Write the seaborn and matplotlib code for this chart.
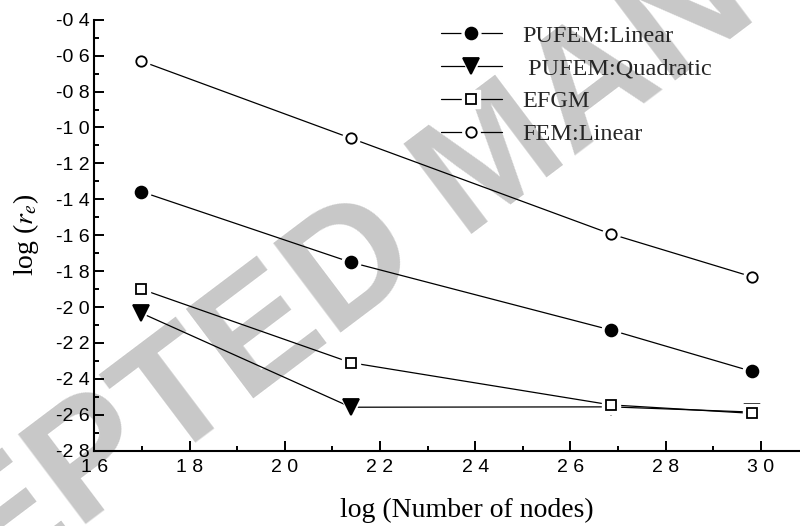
import matplotlib
matplotlib.use("Agg")
import matplotlib.pyplot as plt
from matplotlib.lines import Line2D
from matplotlib.legend_handler import HandlerTuple
from matplotlib.ticker import MultipleLocator, FixedLocator, FixedFormatter
import numpy as np
import pandas as pd
import seaborn as sns

# log10 of the number of nodes for each refinement level
log_nodes = [1.698, 2.139, 2.685, 2.981]

# log10 of the relative error for each method
pufem_linear = [-1.357, -1.751, -2.128, -2.358]
pufem_quadratic = [-2.033, -2.558, -2.556, -2.585]
efgm = [-1.900, -2.310, -2.545, -2.592]
fem_linear = [-0.630, -1.060, -1.593, -1.831]

series_names = ["PUFEM:Linear", " PUFEM:Quadratic", "EFGM", "FEM:Linear"]

x_ticks = [1.6, 1.8, 2.0, 2.2, 2.4, 2.6, 2.8, 3.0]
x_tick_labels = ["1 6", "1 8", "2 0", "2 2", "2 4", "2 6", "2 8", "3 0"]
y_ticks = [-0.4, -0.6, -0.8, -1.0, -1.2, -1.4, -1.6, -1.8, -2.0, -2.2, -2.4, -2.6, -2.8]
y_tick_labels = ["-0 4", "-0 6", "-0 8", "-1 0", "-1 2", "-1 4", "-1 6", "-1 8",
                 "-2 0", "-2 2", "-2 4", "-2 6", "-2 8"]

sns.set_theme(style="ticks")
plt.rcParams["font.family"] = ["Liberation Serif", "DejaVu Serif"]
plt.rcParams["mathtext.fontset"] = "stix"

df = pd.DataFrame({
    "x": log_nodes * 4,
    "y": pufem_linear + pufem_quadratic + efgm + fem_linear,
    "method": np.repeat(series_names, len(log_nodes)),
})

styles = {
    "PUFEM:Linear": dict(marker="o", ms=8.5, mfc="black"),
    " PUFEM:Quadratic": dict(marker="v", ms=11, mfc="black"),
    "EFGM": dict(marker="s", ms=7.5, mfc="white"),
    "FEM:Linear": dict(marker="o", ms=7.5, mfc="white"),
}

fig = plt.figure(figsize=(8.0, 5.26), dpi=100)
ax = fig.add_axes([0.118, 0.1432, 0.882, 0.8193])
ax.set_facecolor("none")

# diagonal watermark behind the axes
fig.text(0.62, 0.69, "ACCEPTED MANUSCRIPT", fontsize=118, fontweight="bold",
         family="Liberation Sans", color="#c8c8c8", rotation=37,
         ha="center", va="center", zorder=-1)

handles = []
for i, name in enumerate(series_names):
    sub = df[df["method"] == name]
    st = styles[name]
    z = 2 + i * 3
    sns.lineplot(data=sub, x="x", y="y", ax=ax, color="black", lw=0.9,
                 legend=False, zorder=z)
    # white halo that leaves a small gap between the line and the marker
    ax.plot(sub["x"], sub["y"], ls="none", marker=st["marker"], ms=st["ms"] + 5,
            mfc="white", mec="white", zorder=z + 1)
    ax.plot(sub["x"], sub["y"], ls="none", marker=st["marker"], ms=st["ms"],
            mfc=st["mfc"], mec="black", mew=1.3, zorder=z + 2)
    h_line = Line2D([], [], color="black", lw=0.9)
    h_halo = Line2D([], [], ls="none", marker=st["marker"], ms=st["ms"] + 5,
                    mfc="white", mec="white")
    h_mark = Line2D([], [], ls="none", marker=st["marker"], ms=st["ms"],
                    mfc=st["mfc"], mec="black", mew=1.3)
    handles.append((h_line, h_halo, h_mark))

ax.set_xlim(1.6, 3.0825)
ax.set_ylim(-2.8, -0.4)

ax.xaxis.set_major_locator(FixedLocator(x_ticks))
ax.xaxis.set_major_formatter(FixedFormatter(x_tick_labels))
ax.xaxis.set_minor_locator(MultipleLocator(0.1))
ax.yaxis.set_major_locator(FixedLocator(y_ticks))
ax.yaxis.set_major_formatter(FixedFormatter(y_tick_labels))
ax.yaxis.set_minor_locator(MultipleLocator(0.1))

ax.tick_params(which="both", direction="in", width=1.4, color="black")
ax.tick_params(which="major", length=7.2)
ax.tick_params(which="minor", length=3.6)
ax.tick_params(axis="x", which="major", pad=6)
ax.tick_params(axis="y", which="major", pad=3.5)
for lab in ax.get_xticklabels() + ax.get_yticklabels():
    lab.set_family("Liberation Sans")
    lab.set_fontsize(14)
    lab.set_color("black")

sns.despine(ax=ax)
for side in ("left", "bottom"):
    ax.spines[side].set_linewidth(1.5)
    ax.spines[side].set_color("black")

ax.set_xlabel("log (Number of nodes)", fontsize=20, color="black")
ax.xaxis.set_label_coords(0.528, -0.110)
ax.set_ylabel(r"log ($r_e$)", fontsize=20, color="black", labelpad=11)

leg = ax.legend(handles, series_names, handler_map={tuple: HandlerTuple(ndivide=1, pad=0)},
                loc="upper left", bbox_to_anchor=(0.460, 1.0386), frameon=False,
                fontsize=17.5, handlelength=2.5, handletextpad=0.85, labelspacing=0.44)

fig.savefig("out.png", dpi=100)
